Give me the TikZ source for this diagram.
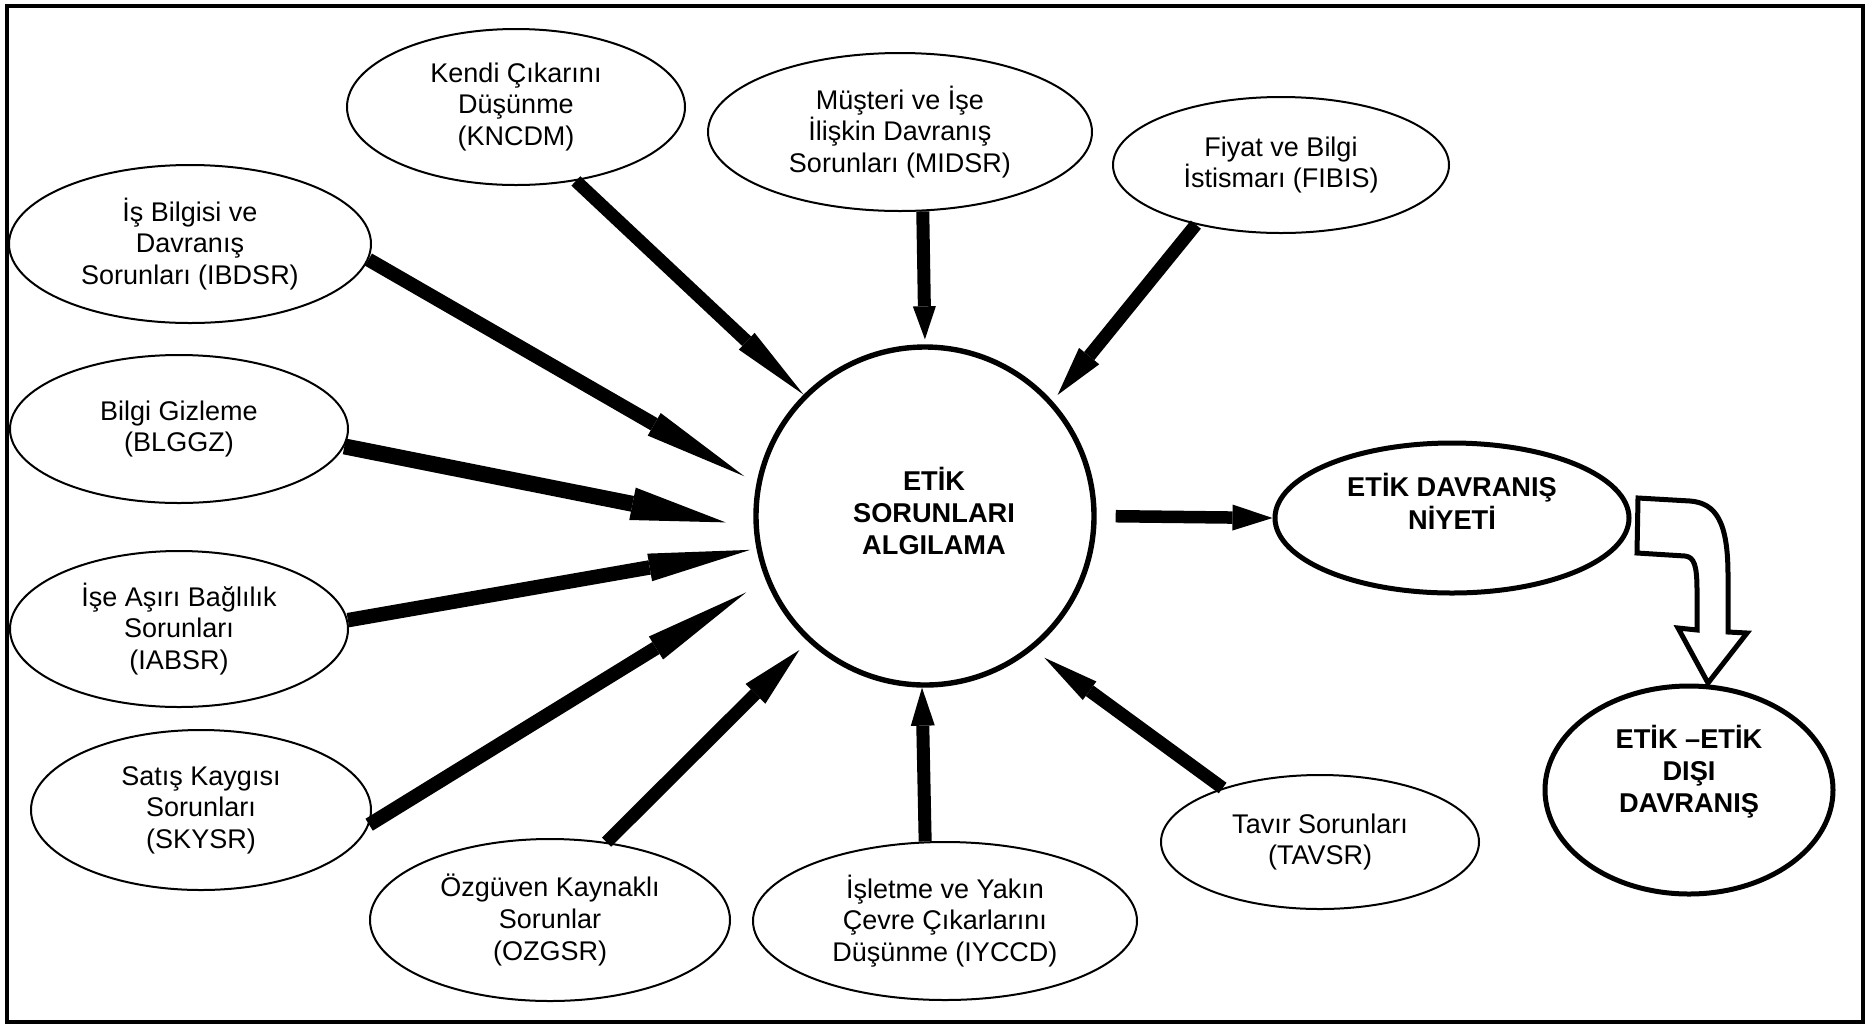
\documentclass[tikz,border=0pt]{standalone}
\usepackage{fontspec}
\setmainfont{Liberation Sans}
\usetikzlibrary{arrows.meta,shapes.geometric}
\begin{document}
\begin{tikzpicture}[x=0.5pt,y=-0.5pt,
  thinell/.style={ellipse,draw,line width=1pt,inner sep=0pt,align=center,
    font=\fontsize{13.5}{15.8}\selectfont},
  boldell/.style={ellipse,draw,line width=2.5pt,inner sep=0pt,
    font=\fontsize{13.6}{16}\selectfont\bfseries},
  flowarrow/.style n args={3}{line width=#1,
    -{Triangle[length=#2,width=#3,line width=0pt]}},
]
\useasboundingbox (0,0) rectangle (1869,1024);
\draw[line width=2pt] (6.5,5.5) rectangle (1863,1022);

% centre
\node[circle,draw,line width=2.7pt,minimum size=169pt,inner sep=0pt,
  font=\fontsize{13.6}{16}\selectfont\bfseries] (ca) at (925,516)
  {\hspace*{9pt}\begin{tabular}{@{}c@{}}ETİK\\SORUNLARI\\ALGILAMA\end{tabular}};
\node[boldell,minimum width=177pt,minimum height=75pt] (niyet) at (1452,518)
  {\raisebox{6pt}[\height][\depth]{\begin{tabular}{@{}c@{}}ETİK DAVRANIŞ\\NİYETİ\end{tabular}}};
\node[boldell,minimum width=144pt,minimum height=104pt] (disi) at (1689,790)
  {\raisebox{8pt}[\height][\depth]{\begin{tabular}{@{}c@{}}ETİK –ETİK\\DIŞI\\DAVRANIŞ\end{tabular}}};

% factors
\node[thinell,minimum width=169pt,minimum height=78pt] (kncdm) at (516,107)
  {Kendi Çıkarını\\Düşünme\\(KNCDM)};
\node[thinell,minimum width=192pt,minimum height=79pt] (midsr) at (900,132)
  {Müşteri ve İşe\\İlişkin Davranış\\Sorunları (MIDSR)};
\node[thinell,minimum width=168pt,minimum height=68pt] (fibis) at (1281,165)
  {Fiyat ve Bilgi\\İstismarı (FIBIS)};
\node[thinell,minimum width=181pt,minimum height=79pt] (ibdsr) at (190,244)
  {İş Bilgisi ve\\Davranış\\Sorunları (IBDSR)};
\node[thinell,minimum width=169pt,minimum height=74pt] (blggz) at (179,429)
  {Bilgi Gizleme\\(BLGGZ)};
\node[thinell,minimum width=169pt,minimum height=78pt] (iabsr) at (179,629)
  {İşe Aşırı Bağlılık\\Sorunları\\(IABSR)};
\node[thinell,minimum width=170pt,minimum height=80pt] (skysr) at (201,810)
  {Satış Kaygısı\\Sorunları\\(SKYSR)};
\node[thinell,minimum width=180pt,minimum height=81pt] (ozgsr) at (550,920)
  {Özgüven Kaynaklı\\Sorunlar\\(OZGSR)};
\node[thinell,minimum width=192pt,minimum height=79pt] (iyccd) at (945,921)
  {İşletme ve Yakın\\Çevre Çıkarlarını\\Düşünme (IYCCD)};
\node[thinell,minimum width=159pt,minimum height=67pt] (tavsr) at (1320,842)
  {Tavır Sorunları\\(TAVSR)};

% arrows
\draw[flowarrow={6.5pt}{39pt}{11.5pt}] (kncdm.-51.3) -- (ca.135.5);
\draw[flowarrow={6.5pt}{16.5pt}{11.5pt},shorten >=2.5pt] (midsr.-74) -- (ca.90);
\draw[flowarrow={6.5pt}{25pt}{13pt},shorten >=4pt] (fibis.-145.4) -- (ca.42.3);
\draw[flowarrow={7pt}{52pt}{13pt},shorten >=7pt] (ibdsr.-5.9) -- (ca.169.8);
\draw[flowarrow={8pt}{47.5pt}{16.5pt},shorten >=14.3pt] (blggz.-6.3) -- (ca.184.3);
\draw[flowarrow={7.25pt}{51pt}{14pt},shorten >=3.2pt] (iabsr.3.3) -- (ca.191.3);
\draw[flowarrow={7pt}{53pt}{13.5pt},shorten >=11.5pt] (skysr.-5.6) -- (ca.202);
\draw[flowarrow={6.5pt}{31pt}{14pt},shorten >=6pt] (ozgsr.54.1) -- (ca.227.2);
\draw[flowarrow={6.5pt}{19pt}{12pt}] (iyccd.104.9) -- (ca.269.3);
\draw[flowarrow={6.5pt}{28pt}{11.5pt},shorten >=7pt] (tavsr.151) -- (ca.309.3);
\draw[flowarrow={6.25pt}{20pt}{13pt},shorten <=9.5pt] (ca.0) -- (niyet.180);

% hollow bent arrow
\draw[line width=2.5pt,fill=white,line join=miter]
  (1638,498) -- (1690,501) .. controls (1716,503) and (1728,522) .. (1728,575)
  -- (1728,632) -- (1747,633) -- (1708,683) -- (1678,628) -- (1697,630)
  -- (1697,590) .. controls (1697,565) and (1694,557) .. (1685,556)
  -- (1637,553) -- cycle;
\end{tikzpicture}
\end{document}
